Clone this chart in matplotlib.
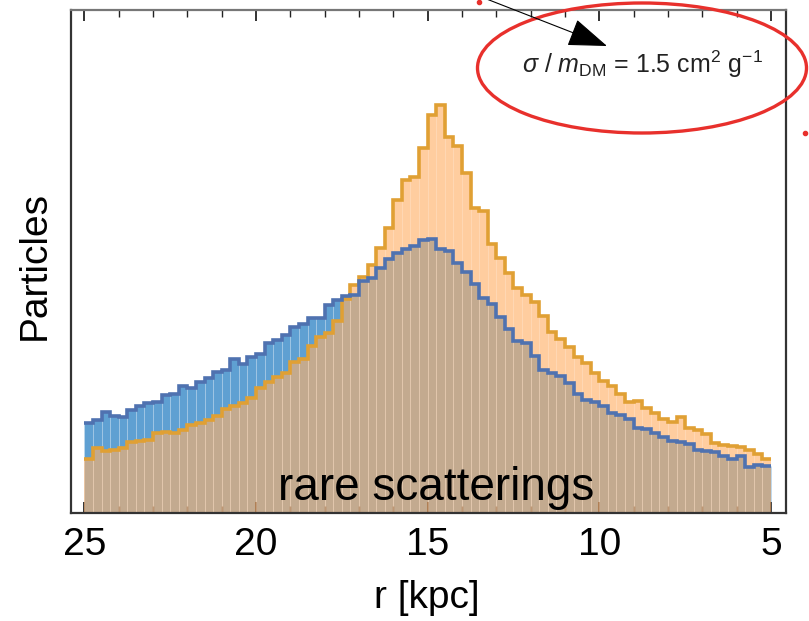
import numpy as np
import matplotlib
matplotlib.use("Agg")
import matplotlib.pyplot as plt
from matplotlib.patches import Ellipse, FancyArrowPatch

# ---- data (bins of 0.25 kpc, listed from r = 25 down to r = 5) ----
r_edges = np.linspace(25, 5, 81)
rare = [90, 93, 101, 97, 96, 103, 107, 110, 111, 118, 119, 127, 125, 131, 135, 141,
        143, 154, 149, 156, 159, 170, 173, 178, 186, 189, 195, 195, 208, 213, 217, 218,
        232, 235, 245, 254, 260, 264, 267, 273, 274, 264, 262, 250, 241, 229, 215, 209,
        196, 184, 172, 170, 157, 143, 140, 137, 130, 119, 113, 111, 107, 100, 98, 94,
        85, 84, 80, 76, 72, 71, 69, 63, 62, 61, 57, 54, 57, 46, 48, 47]
frequent = [54, 65, 62, 63, 65, 71, 72, 73, 80, 81, 80, 83, 88, 90, 93, 97,
            104, 107, 110, 115, 125, 131, 136, 140, 151, 154, 167, 176, 180, 192, 214, 228,
            236, 248, 265, 285, 313, 333, 336, 365, 398, 408, 376, 367, 340, 305, 302, 269,
            255, 240, 225, 218, 211, 197, 181, 174, 166, 156, 150, 140, 132, 127, 119, 111,
            112, 105, 100, 94, 91, 96, 85, 83, 79, 70, 68, 67, 66, 63, 59, 54]
xticks = [25, 20, 15, 10, 5]
xticklabels = ["25", "20", "15", "10", "5"]
label_text = r"$\sigma\ /\ m_{\mathrm{DM}}$ = 1.5 cm$^2$ g$^{-1}$"
overlay_text = "rare scatterings"

# ---- style ----
plt.rcParams['mathtext.fontset'] = 'custom'
plt.rcParams['mathtext.rm'] = 'Liberation Sans'
plt.rcParams['mathtext.it'] = 'Liberation Sans:italic'
sans = ['Liberation Sans', 'DejaVu Sans']

blue_fill = '#5fa0d2'
blue_line = '#4f72b0'
orange_fill = '#ffb068'
orange_line = '#e0a034'

W, H = 809, 621
fig = plt.figure(figsize=(W / 100, H / 100), dpi=100)
ax = fig.add_axes([71 / W, 1 - 513 / H, (786 - 71) / W, (513 - 10) / H])

edges = r_edges[::-1]
v_rare = np.array(rare)[::-1]
v_freq = np.array(frequent)[::-1]
centers = 0.5 * (edges[:-1] + edges[1:])
width = edges[1] - edges[0]

ax.bar(centers, v_rare, width=width, color=blue_fill,
       edgecolor=(1, 1, 1, 0.18), linewidth=0.6, zorder=1)
ax.bar(centers, v_freq, width=width, color=orange_fill, alpha=0.63,
       edgecolor='none', linewidth=0, zorder=2)
ax.bar(centers, v_freq, width=width, color='none',
       edgecolor=(1, 1, 1, 0.14), linewidth=0.6, zorder=2.5)
ax.stairs(v_freq, edges, baseline=None, color=orange_line, linewidth=2.6, zorder=3)
ax.stairs(v_rare, edges, baseline=None, color=blue_line, linewidth=2.6, zorder=4)

ax.set_xlim(25.39, 4.56)
ax.set_ylim(0, 503)
ax.set_xticks(xticks)
ax.set_xticklabels(xticklabels, family=sans, fontsize=28)
ax.set_xticks(np.arange(5, 26, 1), minor=True)
ax.set_yticks([])
ax.tick_params(axis='x', which='major', direction='in', length=8, width=1.3,
               top=True, bottom=True, pad=10, color='#222222')
ax.tick_params(axis='x', which='minor', direction='in', length=5, width=1.0,
               top=True, bottom=True, color='#222222')
for s in ax.spines.values():
    s.set_linewidth(1.6)
    s.set_color('#333333')
ax.spines['top'].set_color('#777777')

fig.text(427 / W, 1 - 598 / H, "r [kpc]", family=sans, fontsize=28,
         ha='center', va='center')
fig.text(35 / W, 1 - 266 / H, "Particles", family=sans, fontsize=28,
         rotation=90, ha='center', va='center')

# ---- overlay in pixel coordinates ----
ov = fig.add_axes([0, 0, 1, 1], zorder=10)
ov.set_xlim(0, W)
ov.set_ylim(H, 0)
ov.axis('off')
ov.patch.set_alpha(0)

ov.text(643, 64, label_text, fontsize=18, ha='center', va='center',
        family='Liberation Sans', color='#222222')
ov.text(436, 500, overlay_text, fontsize=33, ha='center', va='baseline',
        family='Liberation Sans', color='black')
ov.add_patch(Ellipse((642, 68), 329, 130, fill=False, edgecolor='#e8302c',
                     linewidth=2.4))
ov.add_patch(FancyArrowPatch((484, -2), (607, 46),
                             arrowstyle='-|>,head_length=1.25,head_width=0.45',
                             mutation_scale=20, color='black', linewidth=0.8,
                             shrinkA=0, shrinkB=0))
ov.plot([479, 805], [2, 133], linestyle='none', marker='o', markersize=3,
        color='#e8302c')

fig.savefig('out.png', dpi=100)
